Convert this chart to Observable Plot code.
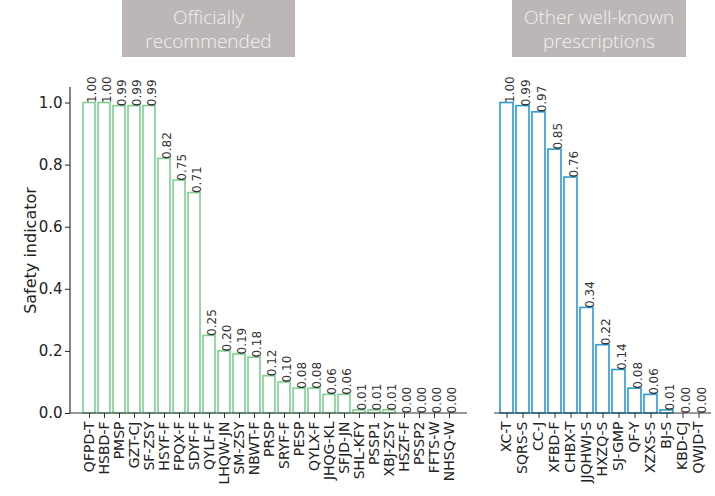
<!DOCTYPE html>
<html>
<head>
<meta charset="utf-8">
<script src="https://cdn.jsdelivr.net/npm/d3@7"></script>
<script src="https://cdn.jsdelivr.net/npm/@observablehq/plot@0.6"></script>
<style>
  html, body { margin: 0; padding: 0; background: #fff; }
  #wrap { position: relative; width: 715px; height: 496px; overflow: hidden; font-family: "DejaVu Sans", sans-serif; }
  .panel { position: absolute; top: 0; }
  .tag { position: absolute; top: 0; height: 57px; background: #bcb6b6; color: #f3f1f1;
         font-family: "Open Sans", "Noto Sans", sans-serif; font-weight: 300; font-size: 19px; line-height: 24px;
         display: flex; align-items: center; justify-content: center; text-align: center; }
</style>
</head>
<body>
<div id="wrap"></div>
<script>
// Officially recommended prescriptions
const officialNames = ["QFPD-T","HSBD-F","PMSP","GZT-CJ","SF-ZSY","HSYF-F","FPQX-F","SDYF-F","QYLF-F","LHQW-JN","SM-ZSY","NBWT-F","PRSP","SRYF-F","PESP","QYLX-F","JHQG-KL","SFJD-JN","SHL-KFY","PSSP1","XBJ-ZSY","HSZF-F","PSSP2","FFTS-W","NHSQ-W"];
const officialValues = [1.00,1.00,0.99,0.99,0.99,0.82,0.75,0.71,0.25,0.20,0.19,0.18,0.12,0.10,0.08,0.08,0.06,0.06,0.01,0.01,0.01,0.00,0.00,0.00,0.00];
// Other well-known prescriptions
const otherNames = ["XC-T","SQRS-S","CC-J","XFBD-F","CHBX-T","JJQHWJ-S","HXZQ-S","SJ-GMP","QF-Y","XZXS-S","BJ-S","KBD-CJ","QWJD-T"];
const otherValues = [1.00,0.99,0.97,0.85,0.76,0.34,0.22,0.14,0.08,0.06,0.01,0.00,0.00];
const yTicks = [0, 0.2, 0.4, 0.6, 0.8, 1.0];
const panelTitles = [["Officially", "recommended"], ["Other well-known", "prescriptions"]];

const wrap = document.getElementById("wrap");

function panel(names, values, color, opts) {
  const data = names.map((n, i) => ({name: n, value: values[i]}));
  const marks = [
    Plot.barY(data, {x: "name", y: "value", fill: "white", stroke: color, strokeWidth: 1.6, inset: 0}),
    Plot.text(data, {x: "name", y: "value", text: d => d.value.toFixed(2), rotate: -90, textAnchor: "start",
                     dx: 3, fontSize: 12, fill: "#333"}),
    Plot.axisX({tickRotate: -90, tickSize: 5, tickPadding: 3, fontSize: 14, label: null, stroke: "#333", color: "#222"})
  ];
  if (opts.yAxis) {
    marks.push(Plot.axisY({ticks: yTicks, tickFormat: d3.format(".1f"), tickSize: 5, tickPadding: 3, fontSize: 15,
      label: null, color: "#222"}));
    marks.push(Plot.axisY({ticks: [], label: "Safety indicator", labelAnchor: "center", labelArrow: "none",
      labelOffset: 46, fontSize: 16, color: "#222"}));
  } else {
    marks.push(Plot.axisY({ticks: [], label: null}));
  }
  const chart = Plot.plot({
    width: opts.width, height: 496,
    marginLeft: opts.marginLeft, marginRight: opts.marginRight, marginTop: 87, marginBottom: 83,
    style: {fontFamily: "DejaVu Sans, sans-serif", background: "white", overflow: "visible"},
    x: {domain: names, paddingInner: 0.2, paddingOuter: 0.1},
    y: {domain: [0, 1.05]},
    marks
  });
  const sel = d3.select(chart);
  const xr = chart.scale("x").range, yr = chart.scale("y").range;
  sel.append("line").attr("x1", xr[0]).attr("x2", xr[1]).attr("y1", yr[0]).attr("y2", yr[0])
     .attr("stroke", "#333").attr("stroke-width", 1.2);
  if (opts.yAxis) {
    sel.append("line").attr("x1", xr[0]).attr("x2", xr[0]).attr("y1", yr[0]).attr("y2", yr[1])
       .attr("stroke", "#333").attr("stroke-width", 1.2);
  }
  chart.classList.add("panel");
  chart.style.left = opts.left + "px";
  wrap.appendChild(chart);
}

panel(officialNames, officialValues, "#7fcf92", {width: 470, left: 0, marginLeft: 70, marginRight: 3, yAxis: true});
panel(otherNames, otherValues, "#2a9ad8", {width: 245, left: 470, marginLeft: 24, marginRight: 4, yAxis: false});

const tagBoxes = [{left: 122, width: 173}, {left: 512, width: 174}];
tagBoxes.forEach((t, i) => {
  const div = document.createElement("div");
  div.className = "tag";
  div.style.left = t.left + "px";
  div.style.width = t.width + "px";
  div.innerHTML = panelTitles[i].join("<br>");
  wrap.appendChild(div);
});
</script>
</body>
</html>
